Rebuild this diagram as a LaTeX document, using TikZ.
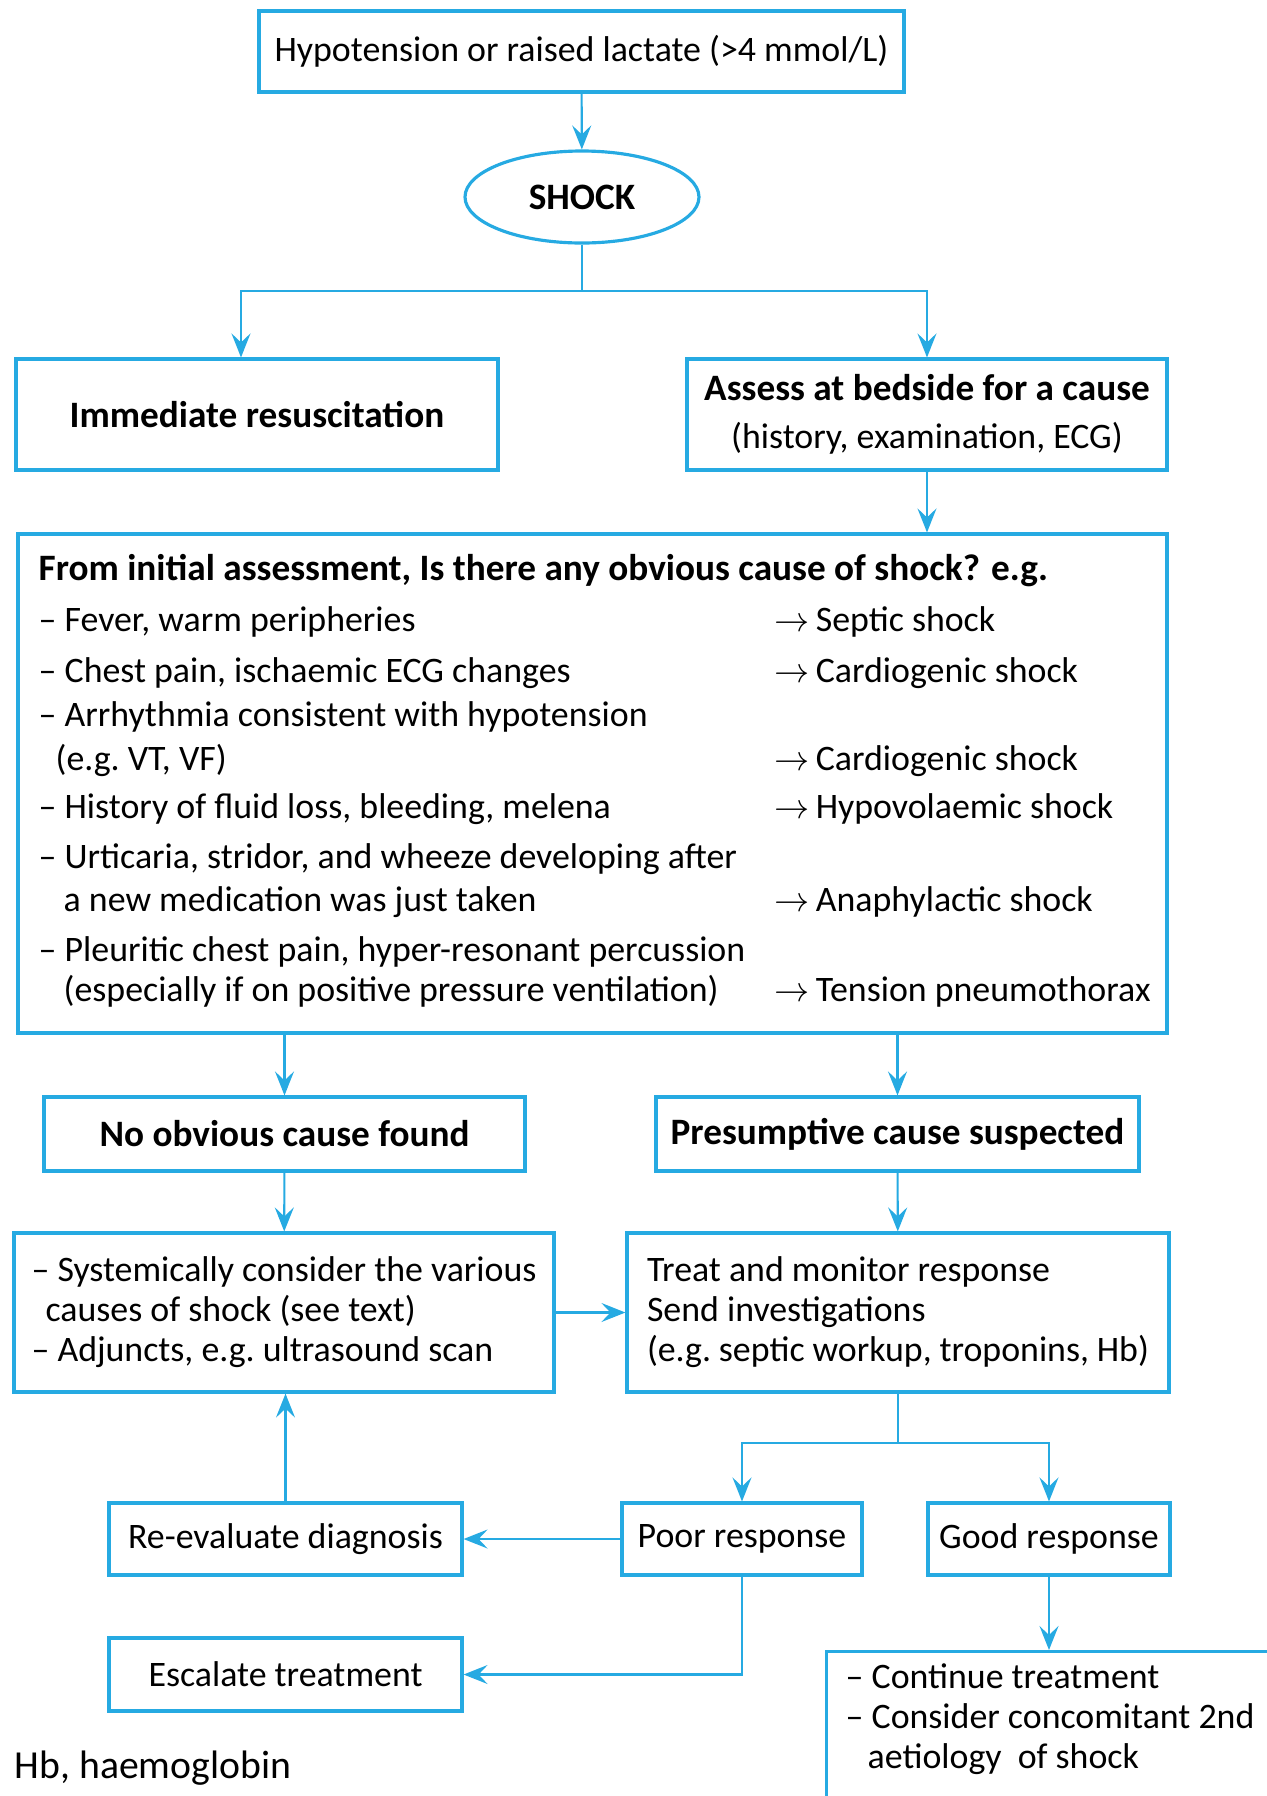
\documentclass[tikz,border=0pt]{standalone}
\usepackage{fontspec}
\setmainfont{Carlito}
\usetikzlibrary{arrows.meta,shapes.geometric}

\definecolor{shockblue}{RGB}{38,170,226}
\newcommand\chartfont{\fontsize{10.2}{11.4}\selectfont\frenchspacing}
\newcommand\headfont{\fontsize{10.6}{11.4}\selectfont\bfseries}

\tikzset{
  fbox/.style={draw=shockblue, line width=0.9pt, inner sep=0pt},
  flow/.style={draw=shockblue, line width=0.6pt, -{Stealth[length=2.4mm,width=1.9mm,inset=0.9mm]}},
  link/.style={draw=shockblue, line width=0.6pt},
  txt/.style={anchor=west, inner sep=0pt, text height=2.3mm, text depth=0.7mm}
}

\begin{document}
\begin{tikzpicture}[x=0.1mm, y=-0.1mm, font=\chartfont]
\clip (0,0) rectangle (1267,1796);

% top of the chart
\node[fbox, minimum width=64.5mm, minimum height=8.1mm] (lact) at (581.5,51.5) {Hypotension or raised lactate (>4 mmol/L)};
\node[fbox, ellipse, minimum width=23.4mm, minimum height=9.2mm, font=\headfont] (shock) at (582,197) {SHOCK};

\node[fbox, minimum width=48.2mm, minimum height=11.1mm, font=\headfont] (resus) at (257,414.5) {Immediate resuscitation};
\node[fbox, minimum width=48mm, minimum height=11.1mm, align=center] (assess) at (927,414.5) {{\headfont Assess at bedside for a cause}\\[2.2pt](history, examination, ECG)};

% initial assessment
\node[fbox, minimum width=114.9mm, minimum height=49.9mm] (cause) at (592.5,783.5) {};
\node[txt, font=\headfont] (question) at (38,572) {From initial assessment, Is there any obvious cause of shock? e.g.};
\foreach \i/\x/\y/\t in {1/38/623/{– Fever, warm peripheries},
    2/38/674/{– Chest pain, ischaemic ECG changes},
    3/38/718/{– Arrhythmia consistent with hypotension},
    4/55/762/{(e.g. VT, VF)},
    5/38/810/{– History of fluid loss, bleeding, melena},
    6/38/860/{– Urticaria, stridor, and wheeze developing after},
    7/63/903/{a new medication was just taken},
    8/38/953/{– Pleuritic chest pain, hyper-resonant percussion},
    9/63/993/{(especially if on positive pressure ventilation)}}
  \node[txt] (sign\i) at (\x,\y) {\t};
\foreach \i/\y/\t in {1/623/Septic shock, 2/674/Cardiogenic shock, 3/762/Cardiogenic shock,
    4/810/Hypovolaemic shock, 5/903/Anaphylactic shock, 6/993/Tension pneumothorax}
  \node[txt] (type\i) at (774,\y) {$\rightarrow$\,\t};

% two routes
\node[fbox, minimum width=48.1mm, minimum height=7.4mm, font=\headfont] (none) at (284.5,1134) {No obvious cause found};
\node[fbox, minimum width=48.3mm, minimum height=7.4mm, font=\headfont] (presumed) at (897.5,1134) {Presumptive cause suspected};

\node[fbox, minimum width=54mm, minimum height=15.9mm, align=flush left] (system) at (284,1312.5) {– Systemically consider the various\\\hspace*{1.4mm}causes of shock (see text)\\– Adjuncts, e.g. ultrasound scan};
\node[fbox, text width=50.2mm, inner xsep=2mm, minimum height=15.9mm, align=flush left] (treat) at (898,1312.5) {Treat and monitor response\\Send investigations\\(e.g. septic workup, troponins, Hb)};

% responses
\node[fbox, minimum width=35.3mm, minimum height=7.2mm] (reeval) at (285.5,1539) {Re-evaluate diagnosis};
\node[fbox, minimum width=24mm, minimum height=7.2mm] (poor) at (742,1539) {Poor response};
\node[fbox, minimum width=24.2mm, minimum height=7.2mm] (good) at (1049,1539) {Good response};
\node[fbox, minimum width=35.3mm, minimum height=7.3mm] (escal) at (285.5,1674.5) {Escalate treatment};

\node[fbox, anchor=north west, minimum width=50mm, minimum height=20mm] (cont) at (825,1650) {};
\node[anchor=north west, inner sep=0pt, align=flush left] (contlist) at (845,1663) {– Continue treatment\\– Consider concomitant 2nd\\\hspace*{2.2mm}aetiology~ of shock};

\node[txt, font=\fontsize{11.3}{13}\selectfont] (hbnote) at (14,1770) {Hb, haemoglobin};

% connectors
\coordinate (fork1) at (582,291);
\coordinate (fork2) at (898,1443);
\draw[flow] (lact) -- (shock);
\draw[link] (shock) -- (fork1);
\draw[flow] (fork1) -| ([xshift=-1.6mm]resus.north);
\draw[flow] (fork1) -| (assess);
\draw[flow] (assess.south) -- (assess.south |- cause.north);
\draw[flow] (none.north |- cause.south) -- (none);
\draw[flow] (presumed.north |- cause.south) -- (presumed);
\draw[flow] (none) -- (system);
\draw[flow] (presumed) -- (treat);
\draw[flow] (system) -- (treat);
\draw[link] (treat) -- (fork2);
\draw[flow] (fork2) -| (poor);
\draw[flow] (fork2) -| (good);
\draw[flow] (poor) -- (reeval);
\draw[flow] (reeval.north) -- (reeval.north |- system.south);
\draw[flow] (poor) |- (escal);
\draw[flow] (good.south) -- (good.south |- cont.north);

\end{tikzpicture}
\end{document}
